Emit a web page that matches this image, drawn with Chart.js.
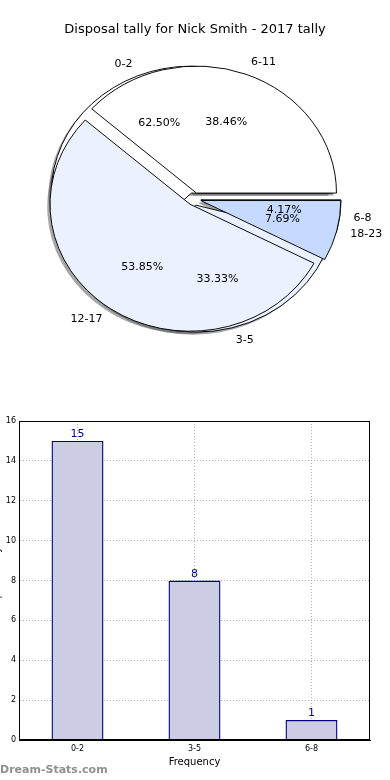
<!DOCTYPE html>
<html><head><meta charset="utf-8">
<script src="https://cdn.jsdelivr.net/npm/chart.js@4/dist/chart.umd.min.js"></script>
<style>
html,body{margin:0;padding:0;background:#fff;width:390px;height:780px;overflow:hidden;position:relative;font-family:"DejaVu Sans",sans-serif}
canvas{position:absolute}
#pieA,#pieB{left:0;top:0}
#bar{left:-9px;top:400px}
</style></head><body>
<canvas id="pieA" width="390" height="398"></canvas>
<canvas id="pieB" width="390" height="398"></canvas>
<canvas id="bar" width="399" height="380"></canvas>
<script>
// ---- data ----
const pieTitle = 'Disposal tally for Nick Smith - 2017 tally';
const outerCategories = ['0-2', '3-5', '6-8'];
const outerValues = [15, 8, 1];
const innerCategories = ['6-11', '12-17', '18-23'];
const innerValues = [5, 7, 1];
const barCategories = ['0-2', '3-5', '6-8'];
const barValues = [15, 8, 1];
const yAxisMax = 16;
const yAxisStep = 2;
const xAxisTitle = 'Frequency';
const yAxisTitle = 'Disposal Tally';
const watermark = 'Dream-Stats.com';

// ---- style constants ----
const SLICE_COLORS = ['#ffffff', '#ebf1ff', '#c6d9ff'];
const RADIUS = 140;
const SY = 127 / 140;      // vertical squash (elliptical pie)
const EXPLODE = 7;
const FONT = '"DejaVu Sans", sans-serif';

// explode every wedge along its mid angle
const origArcDraw = Chart.ArcElement.prototype.draw;
Chart.ArcElement.prototype.draw = function (ctx) {
  const a = (this.startAngle + this.endAngle) / 2;
  ctx.save();
  ctx.translate(Math.cos(a) * EXPLODE, Math.sin(a) * EXPLODE);
  origArcDraw.call(this, ctx);
  ctx.restore();
};

const pieCharts = [];
function flip(ctx, cx, cy) {
  ctx.translate(cx, cy); ctx.scale(1, -SY); ctx.translate(-cx, -cy);
}
const ellipsePlugin = {
  id: 'ellipse',
  beforeDatasetsDraw(chart, args, opts) {
    const ctx = chart.ctx;
    const el0 = chart.getDatasetMeta(0).data[0];
    const cx = el0.x, cy = el0.y;
    if (opts.shadows) {
      ctx.save();
      ctx.translate(-2.8, 2.5);
      flip(ctx, cx, cy);
      ctx.fillStyle = 'rgba(77,77,80,0.5)';
      pieCharts.forEach(c => c.getDatasetMeta(0).data.forEach(arc => {
        const a = (arc.startAngle + arc.endAngle) / 2;
        const ox = arc.x + Math.cos(a) * EXPLODE, oy = arc.y + Math.sin(a) * EXPLODE;
        ctx.beginPath();
        ctx.moveTo(ox, oy);
        ctx.arc(ox, oy, arc.outerRadius, arc.startAngle, arc.endAngle);
        ctx.closePath();
        ctx.fill();
      }));
      ctx.restore();
    }
    ctx.save();
    flip(ctx, cx, cy);
  },
  afterDatasetsDraw(chart) { chart.ctx.restore(); },
  afterDraw(chart, args, opts) {
    if (!opts.labels) return;
    const ctx = chart.ctx;
    ctx.save();
    ctx.fillStyle = '#000';
    ctx.font = '13px ' + FONT;
    ctx.textAlign = 'center'; ctx.textBaseline = 'middle';
    ctx.fillText(pieTitle, 195, 30);
    ctx.font = '11px ' + FONT;
    pieCharts.forEach(c => {
      const vals = c.data.datasets[0].data;
      const total = vals.reduce((s, v) => s + v, 0);
      c.getDatasetMeta(0).data.forEach((arc, i) => {
        const a = (arc.startAngle + arc.endAngle) / 2;
        const cosA = Math.cos(a), sinA = Math.sin(a);
        const r = arc.outerRadius;
        const px = (d) => [arc.x + (EXPLODE + d) * cosA, arc.y - SY * (EXPLODE + d) * sinA];
        let [x, y] = px(0.6 * r);
        ctx.textAlign = 'center';
        ctx.fillText((vals[i] / total * 100).toFixed(2) + '%', x, y);
        [x, y] = px(1.1 * r);
        ctx.textAlign = cosA > 0 ? 'left' : 'right';
        ctx.fillText(c.data.labels[i], x, y);
      });
    });
    ctx.restore();
  }
};

function pieConfig(labels, values, opts) {
  return {
    type: 'pie',
    data: { labels, datasets: [{ data: values, backgroundColor: SLICE_COLORS, borderColor: '#000', borderWidth: 1 }] },
    options: {
      responsive: false, animation: false, events: [], devicePixelRatio: 1,
      rotation: 90, radius: RADIUS,
      layout: { padding: { right: 2 } },
      plugins: { legend: { display: false }, tooltip: { enabled: false }, ellipse: opts }
    },
    plugins: [ellipsePlugin]
  };
}

const pieA = new Chart(document.getElementById('pieA'), pieConfig(outerCategories, outerValues, { shadows: true, labels: false }));
pieCharts.push(pieA);
const pieB = new Chart(document.getElementById('pieB'), pieConfig(innerCategories, innerValues, { shadows: false, labels: true }));
pieCharts.push(pieB);
pieA.draw();
pieB.draw();

// ---- bar chart ----
const barExtras = {
  id: 'barExtras',
  afterDatasetsDraw(chart) {
    const ctx = chart.ctx;
    ctx.save();
    ctx.fillStyle = '#000080';
    ctx.font = '11px ' + FONT;
    ctx.textAlign = 'center'; ctx.textBaseline = 'bottom';
    chart.getDatasetMeta(0).data.forEach((bar, i) => {
      ctx.fillText(String(chart.data.datasets[0].data[i]), bar.x, bar.y - 1);
    });
    ctx.restore();
  },
  afterDraw(chart) {
    const ctx = chart.ctx, a = chart.chartArea;
    ctx.save();
    ctx.strokeStyle = '#000'; ctx.lineWidth = 1;
    ctx.strokeRect(Math.round(a.left) + 0.5, Math.round(a.top) + 0.5, Math.round(a.right - a.left) - 1, Math.round(a.bottom - a.top) - 1);
    ctx.fillStyle = '#8f8f8f';
    ctx.font = 'bold 11px ' + FONT;
    ctx.textAlign = 'left'; ctx.textBaseline = 'middle';
    ctx.fillText(watermark, 9, 370);
    ctx.restore();
  }
};

new Chart(document.getElementById('bar'), {
  type: 'bar',
  data: { labels: barCategories, datasets: [{ data: barValues, backgroundColor: '#ccccE4', borderColor: '#000080', borderWidth: 1.4, barPercentage: 0.444, categoryPercentage: 1 }] },
  options: {
    responsive: false, animation: false, events: [], devicePixelRatio: 1,
    layout: { padding: { top: 21, right: 20, left: 0, bottom: 12 } },
    plugins: { legend: { display: false }, tooltip: { enabled: false } },
    scales: {
      x: {
        z: 1, offset: true,
        grid: { offset: false, color: '#b0b0b0', drawTicks: false, lineWidth: 1 },
        border: { display: true, color: '#000', width: 1, dash: [1, 2] },
        ticks: { font: { size: 8, family: FONT }, color: '#000', padding: 4 },
        title: { display: true, text: xAxisTitle, font: { size: 10, family: FONT }, color: '#000', padding: { top: 2, bottom: 0 } },
        afterFit(s) { s.height = 28; }
      },
      y: {
        z: 1, min: 0, max: yAxisMax,
        grid: { color: '#b0b0b0', drawTicks: false, lineWidth: 1 },
        border: { display: true, color: '#000', width: 1, dash: [1, 2] },
        ticks: { stepSize: yAxisStep, font: { size: 8, family: FONT }, color: '#000', padding: 3 },
        title: { display: true, text: yAxisTitle, font: { size: 10, family: FONT }, color: '#000', padding: { top: 0, bottom: 0 } },
        afterFit(s) { s.width = 28; }
      }
    }
  },
  plugins: [barExtras]
});
</script>
</body></html>
